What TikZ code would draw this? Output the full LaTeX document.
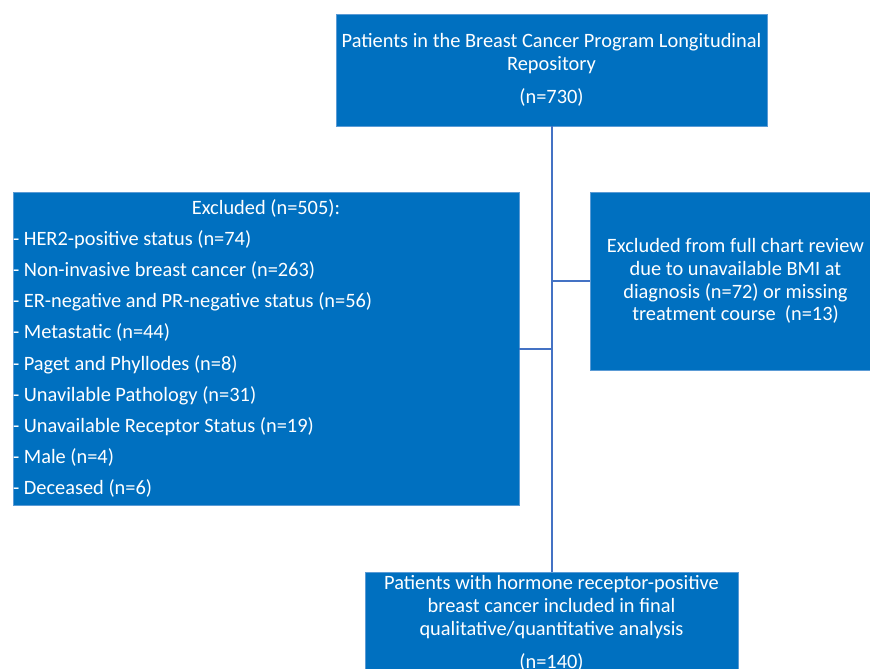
\documentclass[tikz,border=0pt]{standalone}
\usepackage{fontspec}
\setmainfont{Carlito}
\newlength\pxu
\setlength\pxu{0.03cm}
\definecolor{boxblue}{RGB}{0,112,192}
\definecolor{boxedge}{RGB}{91,155,213}
\definecolor{linkblue}{RGB}{68,114,196}
\tikzset{
    flowbox/.style={draw=boxedge, fill=boxblue, text=white, line width=0.4pt,
        font=\fontsize{17.4pt}{19.4pt}\selectfont, align=center},
    link/.style={draw=linkblue, line width=1.7pt}
}
\begin{document}
\begin{tikzpicture}[x=0.03cm,y=-0.03cm]
    \clip (0,0) rectangle (870,668);
    \fill[white] (0,0) rectangle (870,668);
    % boxes
    \node[flowbox, minimum width=431\pxu, minimum height=112\pxu] (repo) at (551.5,70)
        {Patients in the Breast Cancer Program Longitudinal\\ Repository\\[9pt] (n=730)};
    \node[flowbox, minimum width=506\pxu, minimum height=313\pxu, text width=506\pxu,
        inner xsep=0pt, align=left, font=\fontsize{17.4pt}{26.6pt}\selectfont] (excl) at (266,348.5)
        {\spaceskip=0pt \xspaceskip=0pt
        \makebox[\linewidth]{Excluded (n=505):}\\
        - HER2-positive status (n=74)\\
        - Non-invasive breast cancer (n=263)\\
        - ER-negative and PR-negative status (n=56)\\
        - Metastatic (n=44)\\
        - Paget and Phyllodes (n=8)\\
        - Unavilable Pathology (n=31)\\
        - Unavailable Receptor Status (n=19)\\
        - Male (n=4)\\
        - Deceased (n=6)};
    \node[flowbox, minimum width=291\pxu, minimum height=178\pxu] (chart) at (735.5,281)
        {Excluded from full chart review\\ due to unavailable BMI at\\ diagnosis (n=72) or missing\\ treatment course~~(n=13)};
    \node[flowbox, minimum width=373\pxu, inner ysep=3pt, anchor=north] (final) at (551.5,572)
        {Patients with hormone receptor-positive\\ breast cancer included in final\\ qualitative/quantitative analysis\\[9pt] (n=140)\\[6pt]};
    % connectors
    \draw[link] (repo.south) -- (final.north);
    \draw[link] (repo.south |- chart.west) -- (chart.west);
    \draw[link] (repo.south |- excl.east) -- (excl.east);
\end{tikzpicture}
\end{document}
